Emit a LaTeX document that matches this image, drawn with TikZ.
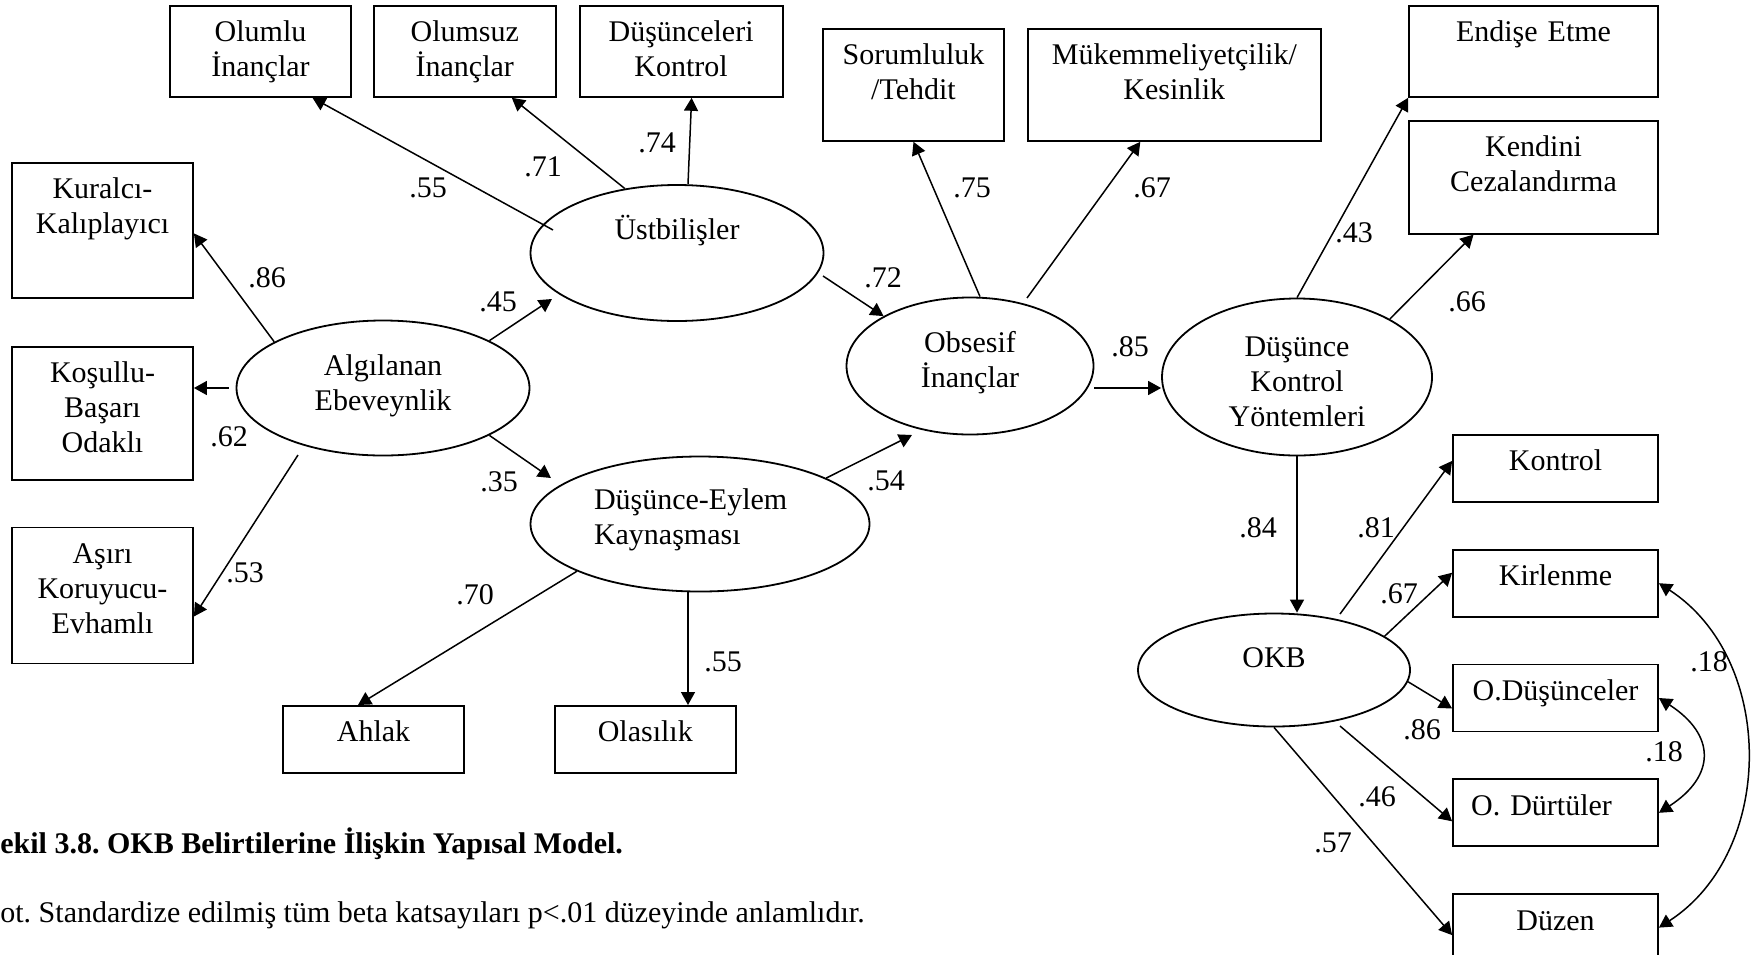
\documentclass[tikz,border=0pt]{standalone}
\usepackage{fontspec}
\setmainfont{Liberation Serif}
\usetikzlibrary{arrows.meta, positioning, shapes, calc}
\frenchspacing

\begin{document}
\begin{tikzpicture}[x=0.5pt, y=-0.5pt, node distance=23pt,
    every node/.style={font=\fontsize{15}{17.5}\selectfont},
    >={Triangle[length=6.5pt, width=7pt]},
    kutu/.style={draw, line width=0.9pt, inner sep=0pt, align=center, text height=18pt},
    tek/.style={kutu, text width=102.5pt, text depth=15.5pt},
    gizil/.style={draw, ellipse, line width=0.9pt, inner sep=0pt, align=center, text width=72pt, text height=10pt},
    yol/.style={->, line width=0.75pt}]

    \useasboundingbox (0,0) rectangle (1759,954);

    \node (olumlu) [kutu, text width=90.5pt, text depth=27.5pt, anchor=north] at (260.5,5) {Olumlu\\İnançlar};
    \node (olumsuz) [kutu, text width=91pt, text depth=27.5pt, right=10.5pt of olumlu] {Olumsuz\\İnançlar};
    \node (dkontrol) [kutu, text width=101.5pt, text depth=27.5pt, right=11pt of olumsuz] {Düşünceleri\\Kontrol};
    \node (sorumluluk) [kutu, text width=90.5pt, text depth=38pt, anchor=north] at (913.5,28) {Sorumluluk\\/Tehdit};
    \node (mukemmel) [kutu, text width=146.5pt, text depth=38pt, right=11pt of sorumluluk] {Mükemmeliyetçilik/\\Kesinlik};
    \node (endise) [kutu, text width=124.5pt, text depth=27.5pt, anchor=north] at (1533.5,5) {Endişe Etme};
    \node (kendini) [kutu, text width=124.5pt, text depth=38.5pt, below=11pt of endise] {Kendini\\Cezalandırma};

    \node (kuralci) [kutu, text width=90.5pt, text depth=49.5pt, anchor=north] at (102.5,162) {Kuralcı-\\Kalıplayıcı};
    \node (kosullu) [kutu, text width=90.5pt, text depth=48.5pt, below=23.5pt of kuralci] {Koşullu-\\Başarı\\Odaklı};
    \node (asiri) [kutu, text width=90.5pt, text depth=50pt, below=of kosullu] {Aşırı\\Koruyucu-\\Evhamlı};
    \node (ahlak) [kutu, text width=90.5pt, text depth=15.5pt, anchor=north] at (373.5,705) {Ahlak};
    \node (olasilik) [kutu, text width=90.5pt, text depth=15.5pt, right=44.5pt of ahlak] {Olasılık};

    \node (kontrol) [tek, anchor=north] at (1555.5,434) {Kontrol};
    \node (kirlenme) [tek, below=of kontrol] {Kirlenme};
    \node (odus) [tek, below=of kirlenme] {O.Düşünceler};
    \node (odurt) [tek, below=of odus] {\hspace*{-14pt}O. Dürtüler};
    \node (duzen) [tek, below=of odurt] {Düzen};

    \node (algi) [gizil, minimum width=146.5pt, minimum height=67.5pt, text depth=23pt] at (383,388) {Algılanan\\Ebeveynlik};
    \node (ust) [gizil, minimum width=146.5pt, minimum height=68pt, text depth=24pt] at (677,253) {Üstbilişler};
    \node (obsesif) [gizil, minimum width=123.5pt, minimum height=68.5pt, text depth=24pt] at (970,366) {Obsesif\\İnançlar};
    \node (dky) [gizil, minimum width=135pt, minimum height=78.5pt, text depth=31pt] at (1297,377) {Düşünce\\Kontrol\\Yöntemleri};
    \node (eylem) [gizil, minimum width=169.5pt, minimum height=67.5pt, text depth=25pt, text width=106pt, align=left] at (700,524) {Düşünce-Eylem\\Kaynaşması};
    \node (okb) [gizil, minimum width=136pt, minimum height=56.5pt, text depth=13pt] at (1274,670) {OKB};

    \draw[yol] ($(ust.center)+(-124,-23)$) -- ([xshift=26pt]olumlu.south);
    \draw[yol] (ust.129) -- ([xshift=23.5pt]olumsuz.south);
    \draw[yol] ([xshift=5.5pt]ust.north) -- ([xshift=5.25pt]dkontrol.south);
    \draw[yol] (algi.157) -- ([yshift=-1.5pt]kuralci.east);
    \draw[yol] ([xshift=-3.5pt]algi.west) -- (algi.west -| kosullu.east);
    \draw[yol] ($(algi.center)+(-85,67)$) -- ([yshift=-10.5pt]asiri.east);
    \draw[yol] (algi.24) -- ($(ust.center)+(-125,46)$);
    \draw[yol] (algi.-24) -- ($(eylem.center)+(-149,-46)$);
    \draw[yol] ($(ust.center)+(146,23)$) -- (obsesif.150);
    \draw[yol] (eylem.20) -- ($(obsesif.center)+(-58,69)$);
    \draw[yol] ([xshift=5pt]obsesif.north) -- (sorumluluk.south);
    \draw[yol] ($(obsesif.center)+(57,-68)$) -- ([xshift=-17pt]mukemmel.south);
    \draw[yol] ([yshift=-11pt]obsesif.east) -- ([yshift=-5.5pt]dky.west);
    \draw[yol] (dky.north) -- (endise.south west);
    \draw[yol] (dky.32) -- ([xshift=-30pt]kendini.south);
    \draw[yol] (dky.south) -- (dky.south |- okb.north);
    \draw[yol] (eylem.201) -- ([xshift=-7.75pt]ahlak.north);
    \draw[yol] ([xshift=-6pt]eylem.south) -- ([xshift=-6pt]eylem.south |- olasilik.north);
    \draw[yol] ($(okb.center)+(66,-56)$) -- ([yshift=3.75pt]kontrol.west);
    \draw[yol] (okb.17) -- ([yshift=5.25pt]kirlenme.west);
    \draw[yol] (okb.-5) -- ([yshift=-5.25pt]odus.west);
    \draw[yol] ($(okb.center)+(66,56)$) -- ([yshift=-4.25pt]odurt.west);
    \draw[yol] (okb.south) -- ([yshift=-3.75pt]duzen.west);
    \draw[yol, <->] (kirlenme.east) .. controls +(117,76) and +(117,-76) .. (duzen.east);
    \draw[yol, <->] (odus.east) .. controls +(57,37) and +(57,-37) .. (odurt.east);

    \node (k1) at (428,188) {.55};
    \node (k2) at (543,167) {.71};
    \node (k3) at (657,143) {.74};
    \node (k4) at (267,278) {.86};
    \node (k5) at (498,302) {.45};
    \node (k6) at (229,437) {.62};
    \node (k7) at (245,573) {.53};
    \node (k8) at (499,482) {.35};
    \node (k9) at (883,278) {.72};
    \node (k10) at (886,481) {.54};
    \node (k11) at (972,188) {.75};
    \node (k12) at (1152,188) {.67};
    \node (k13) at (1130,347) {.85};
    \node (k14) at (1354,233) {.43};
    \node (k15) at (1467,302) {.66};
    \node (k16) at (1258,528) {.84};
    \node (k17) at (1376,528) {.81};
    \node (k18) at (1399,594) {.67};
    \node (k19) at (1422,730) {.86};
    \node (k20) at (1377,797) {.46};
    \node (k21) at (1333,843) {.57};
    \node (k22) at (475,595) {.70};
    \node (k23) at (723,662) {.55};
    \node (k24) at (1709,662) {.18};
    \node (k25) at (1664,752) {.18};

    \node (baslik) [anchor=base west, inner sep=0pt, font=\fontsize{15}{17.5}\selectfont\bfseries] at (0,853) {ekil 3.8. OKB Belirtilerine İlişkin Yapısal Model.};
    \node (dipnot) [anchor=base west, inner sep=0pt] at (0,922) {ot. Standardize edilmiş tüm beta katsayıları p<.01 düzeyinde anlamlıdır.};

\end{tikzpicture}
\end{document}
